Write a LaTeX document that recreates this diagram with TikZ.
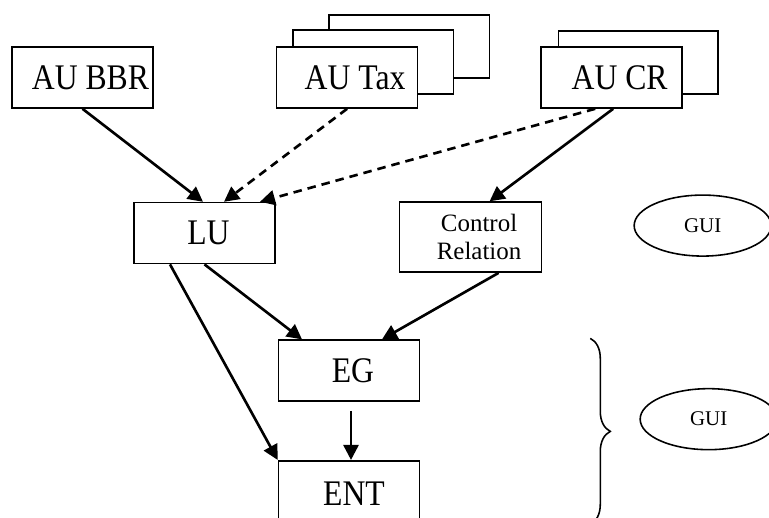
\documentclass[tikz,border=0pt]{standalone}
\usepackage{fontspec}
\setmainfont{Liberation Serif}
\newfontfamily\tallserif[FakeStretch=0.88]{Liberation Serif}
\usepackage{tikz}
\usetikzlibrary{positioning, arrows.meta, calc, decorations.pathreplacing, backgrounds, shapes.geometric}

\begin{document}
\begin{tikzpicture}[
  node distance=1.86cm and 2.44cm,
  unit/.style={draw, line width=0.9pt, fill=white, minimum width=2.82cm,
               minimum height=1.22cm, inner sep=0pt,
               font=\tallserif\fontsize{20.5}{22}\selectfont},
  padded/.style={execute at begin node={\hspace*{#1}}},
  gui/.style={draw, ellipse, line width=0.9pt, minimum width=2.74cm,
              minimum height=1.22cm, inner sep=0pt,
              font=\fontsize{11.9}{13}\selectfont},
  stack/.style={draw, line width=0.9pt, fill=white},
  arrow/.style={-{Triangle[length=0.3cm, width=0.3cm]}, line width=1.5pt},
  dash_arrow/.style={arrow, dash pattern=on 0.17cm off 0.12cm},
]
  \useasboundingbox (0,0) rectangle (15.38,-10.36);

  % Source units
  \node[unit, padded=0.32cm] (bbr) at (1.65,-1.55) {AU BBR};
  \node[unit, padded=0.32cm, right=of bbr] (tax) {AU Tax};
  \node[unit, padded=0.32cm, right=of tax] (cr) {AU CR};
  % Stacked copies behind
  \begin{scope}[on background layer]
    \draw[stack] ($(tax.north west)+(1.06,0.62)$) rectangle
                 ($(tax.south east)+(1.42,0.62)$);
    \draw[stack] ($(tax.north west)+(0.34,0.32)$) rectangle
                 ($(tax.south east)+(0.70,0.30)$);
    \draw[stack] ($(cr.north west)+(0.36,0.30)$) rectangle
                 ($(cr.south east)+(0.70,0.30)$);
  \end{scope}

  % Second row
  \node[unit, padded=0.16cm, below=of bbr, xshift=2.44cm] (lu) {LU};
  \node[unit, right=2.46cm of lu, yshift=-0.08cm, minimum width=2.84cm,
        minimum height=1.4cm, align=center,
        font=\fontsize{14.2}{15.6}\selectfont] (ctrl)
    {\hspace*{0.34cm}Control\\\hspace*{0.34cm}Relation};

  % Enterprise groups
  \node[unit, padded=0.16cm, below=1.5cm of lu, xshift=2.89cm] (eg) {EG};
  \node[unit, padded=0.2cm, below=1.16cm of eg, minimum height=1.3cm] (ent)
    {ENT};

  % GUI ellipses
  \node[gui, right=1.82cm of ctrl, yshift=0.23cm] (gui1) {GUI};
  \node[gui, below=2.62cm of gui1, xshift=0.12cm] (gui2) {GUI};

  % Brace
  \coordinate (brace top) at ($(eg.north east)+(3.4,0.02)$);
  \coordinate (brace bottom) at ($(brace top)+(0,-3.72)$);
  \draw[decorate, decoration={brace, amplitude=0.4cm}, line width=0.9pt]
    (brace top) -- (brace bottom);

  % Arrows into LU
  \draw[arrow] (bbr.south) -- ([xshift=-0.03cm]lu.north);
  \draw[dash_arrow] (tax.south) -- ([xshift=0.39cm]lu.north);
  \draw[dash_arrow] ([xshift=-0.33cm]cr.south) -- ([xshift=1.11cm]lu.north);
  % Arrow into control relation
  \draw[arrow] ([xshift=0.03cm]cr.south) -- ([xshift=0.38cm]ctrl.north);
  % Arrows into EG
  \draw[arrow] (lu.south) -- ([xshift=-0.94cm]eg.north);
  \draw[arrow] ([xshift=0.56cm]ctrl.south) -- ([xshift=0.66cm]eg.north);
  % Arrows into ENT
  \draw[arrow] ([xshift=0.04cm, yshift=-0.18cm]eg.south)
    -- ([xshift=0.04cm]ent.north);
  \draw[arrow] ([xshift=-0.69cm]lu.south) -- (ent.north west);
\end{tikzpicture}
\end{document}
